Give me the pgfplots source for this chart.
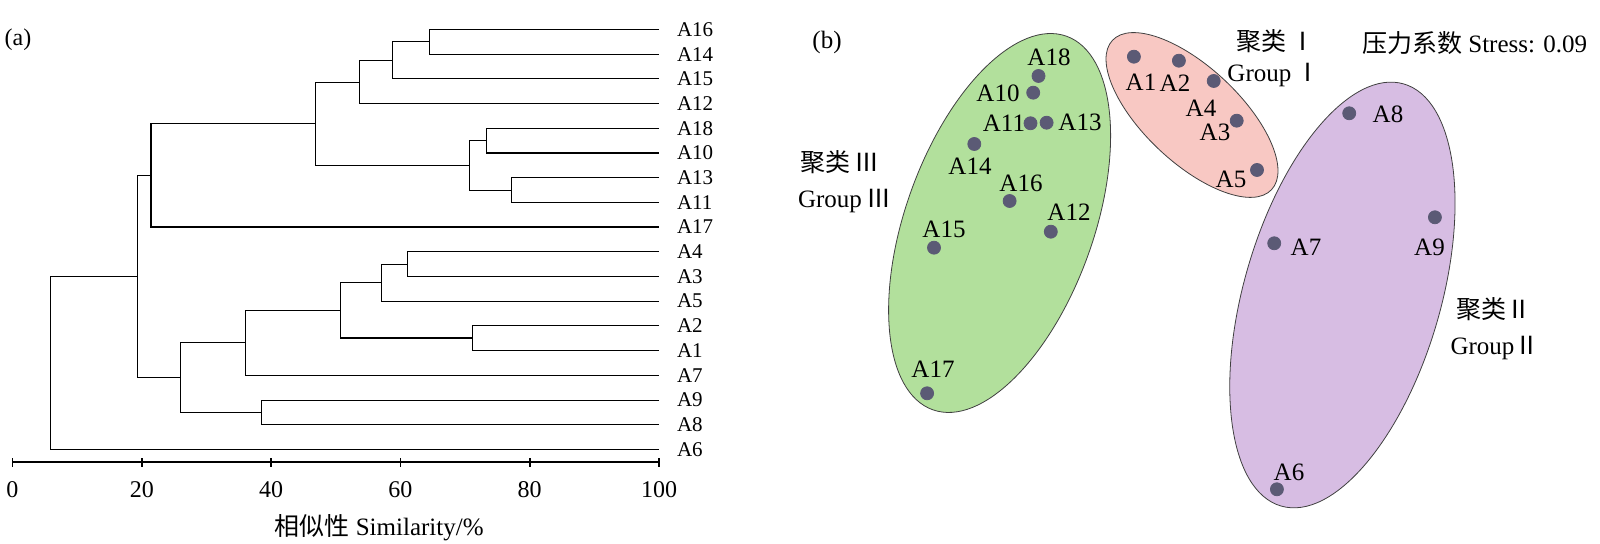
\documentclass[border=0pt]{standalone}
\usepackage{pgfplots}
\pgfplotsset{compat=1.18}
\usepackage{fontspec}
\setmainfont{Liberation Serif}
\newfontfamily\cjk{Noto Sans CJK SC}

\definecolor{grpone}{HTML}{F8C8C3}
\definecolor{grptwo}{HTML}{D7BDE3}
\definecolor{grpthree}{HTML}{B2E09C}
\definecolor{dotc}{HTML}{5B5A75}

\newcommand{\lab}{\fontsize{12.5}{14}\selectfont}

\begin{document}
\begin{tikzpicture}[x=1pt,y=1pt]
\useasboundingbox (0,0) rectangle (800,272);

% ---------------- (a) dendrogram ----------------
\node[font=\fontsize{12}{14}\selectfont] at (9,252) {(a)};
\begin{axis}[
    at={(6.25pt,40.85pt)}, anchor=south west,
    scale only axis,
    width=323.25pt, height=222.6pt,
    xmin=0, xmax=100, ymin=0.474, ymax=18.5,
    axis x line*=bottom, axis y line=none,
    xtick={0,20,40,60,80,100},
    tick align=center, major tick length=4.5pt,
    every tick/.style={black, line width=0.8pt},
    x axis line style={line width=0.8pt},
    /pgf/number format/assume math mode=true,
    xticklabel style={font=\fontsize{12}{14}\selectfont, yshift=-4pt},
    xlabel={{\cjk 相似性} Similarity/\%},
    xlabel style={at={(rel axis cs:0.567,0)}, anchor=center, yshift=-32.5pt,
        font=\fontsize{12.5}{14}\selectfont},
    clip=false,
    cycle list={{black, solid, mark=none, line width=0.7pt}},
]
% each link: child 1 -> node -> child 2
\addplot coordinates {(100,18) (64.5,18) (64.5,17) (100,17)};
\addplot coordinates {(64.5,17.5) (58.8,17.5) (58.8,16) (100,16)};
\addplot coordinates {(58.8,16.75) (53.7,16.75) (53.7,15) (100,15)};
\addplot coordinates {(100,14) (73.3,14) (73.3,13) (100,13)};
\addplot coordinates {(100,12) (77.2,12) (77.2,11) (100,11)};
\addplot coordinates {(73.3,13.5) (70.6,13.5) (70.6,11.5) (77.2,11.5)};
\addplot coordinates {(53.7,15.875) (46.9,15.875) (46.9,12.5) (70.6,12.5)};
\addplot coordinates {(46.9,14.1875) (21.4,14.1875) (21.4,10) (100,10)};
\addplot coordinates {(100,9) (61.1,9) (61.1,8) (100,8)};
\addplot coordinates {(61.1,8.5) (57.1,8.5) (57.1,7) (100,7)};
\addplot coordinates {(100,6) (71.1,6) (71.1,5) (100,5)};
\addplot coordinates {(57.1,7.75) (50.7,7.75) (50.7,5.5) (71.1,5.5)};
\addplot coordinates {(50.7,6.625) (36.0,6.625) (36.0,4) (100,4)};
\addplot coordinates {(100,3) (38.5,3) (38.5,2) (100,2)};
\addplot coordinates {(36.0,5.3125) (25.9,5.3125) (25.9,2.5) (38.5,2.5)};
\addplot coordinates {(21.4,12.09375) (19.3,12.09375) (19.3,3.90625) (25.9,3.90625)};
\addplot coordinates {(19.3,8.0) (5.9,8.0) (5.9,1) (100,1)};

\foreach \n/\yy in {A16/18,A14/17,A15/16,A12/15,A18/14,A10/13,A13/12,A11/11,A17/10,
                    A4/9,A3/8,A5/7,A2/6,A1/5,A7/4,A9/3,A8/2,A6/1}{
  \edef\tmp{\noexpand\node[anchor=west, inner sep=0pt, xshift=8.8pt,
      font=\noexpand\fontsize{10.5}{12}\noexpand\selectfont] at (axis cs:100,\yy) {\n};}
  \tmp
}
\end{axis}

% ---------------- (b) NMDS ----------------
\begin{axis}[
    at={(380pt,0pt)}, anchor=south west,
    scale only axis,
    width=420pt, height=272pt,
    xmin=760, xmax=1600, ymin=0, ymax=544,
    hide axis, clip=false,
]
\draw[fill=grpthree, draw=black!75, line width=0.4pt]
  (axis cs:999.6,321) ellipse [x radius=99.2pt, y radius=47.05pt, rotate=70.3];
\draw[fill=grpone, draw=black!75, line width=0.4pt]
  (axis cs:1192,429) ellipse [x radius=54.55pt, y radius=23.85pt, rotate=-43.2];
\draw[fill=grptwo, draw=black!75, line width=0.4pt]
  (axis cs:1342.4,249) ellipse [x radius=109.9pt, y radius=49.2pt, rotate=73.8];

\addplot[only marks, mark=*, mark size=3.25pt, mark options={fill=dotc, draw=dotc}]
coordinates {
(1133.9,487.3) (1178.9,483.3) (1236.7,423.3) (1213.7,463) (1257,374)
(1276.9,54.7) (1274.2,300.7) (1349.2,430.7) (1434.9,326.7)
(1033.2,451.3) (1030.5,420.7) (1050.8,312.3) (1046.6,421.3) (974.3,400)
(934,296.3) (1009.6,343) (927.1,150.7) (1038.5,468)
};

\foreach \n/\xx/\yy in {A18/1049/487,A10/998/451,A11/1004/421,A13/1080/422,
    A14/970/378,A16/1021/361,A12/1069/332,A15/944/315,A17/933/175,
    A1/1141/462,A2/1175/461,A4/1201/436,A3/1215/412,A5/1231/365,
    A8/1388/430,A9/1429.5/297,A7/1306/297,A6/1289/72}{
  \edef\tmp{\noexpand\node[inner sep=0pt, font=\noexpand\lab] at (axis cs:\xx,\yy) {\n};}
  \tmp
}

\node[font=\lab] at (axis cs:827,501) {(b)};
\node[font=\lab] at (axis cs:1276,503) {{\cjk 聚类\,Ⅰ}};
\node[font=\lab] at (axis cs:1274,469) {Group\,{\cjk Ⅰ}};
\node[font=\lab] at (axis cs:1474.6,501) {{\cjk 压力系数} Stress: 0.09};
\node[font=\lab] at (axis cs:840,382) {{\cjk 聚类\,Ⅲ}};
\node[font=\lab] at (axis cs:844.6,343) {Group\,{\cjk Ⅲ}};
\node[font=\lab] at (axis cs:1494,235) {{\cjk 聚类Ⅱ}};
\node[font=\lab] at (axis cs:1495,196) {Group{\cjk Ⅱ}};
\end{axis}
\end{tikzpicture}
\end{document}
